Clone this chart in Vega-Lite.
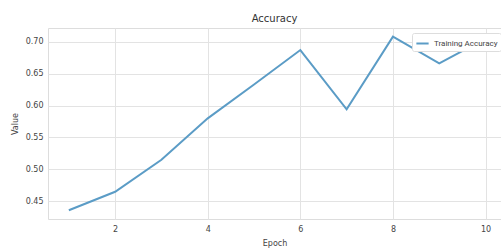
{
  "$schema": "https://vega.github.io/schema/vega-lite/v6.json",
  "autosize": {"type": "none"},
  "width": 453,
  "height": 191,
  "padding": {"left": 48, "top": 28, "right": 0, "bottom": 29},
  "background": "white",
  "title": {"text": "Accuracy", "fontSize": 10, "font": "DejaVu Sans", "fontWeight": "normal", "color": "#333", "offset": 4, "anchor": "middle"},
  "data": {"values": [
    {"Epoch": 1, "Value": 0.436, "Series": "Training Accuracy"},
    {"Epoch": 2, "Value": 0.465, "Series": "Training Accuracy"},
    {"Epoch": 3, "Value": 0.515, "Series": "Training Accuracy"},
    {"Epoch": 4, "Value": 0.58, "Series": "Training Accuracy"},
    {"Epoch": 5, "Value": 0.633, "Series": "Training Accuracy"},
    {"Epoch": 6, "Value": 0.687, "Series": "Training Accuracy"},
    {"Epoch": 7, "Value": 0.594, "Series": "Training Accuracy"},
    {"Epoch": 8, "Value": 0.708, "Series": "Training Accuracy"},
    {"Epoch": 9, "Value": 0.666, "Series": "Training Accuracy"},
    {"Epoch": 10, "Value": 0.705, "Series": "Training Accuracy"}
  ]},
  "mark": {"type": "line", "strokeWidth": 2, "clip": true},
  "encoding": {
    "x": {"field": "Epoch", "type": "quantitative",
      "scale": {"domain": [0.55, 10.334], "nice": false, "zero": false},
      "axis": {"values": [2, 4, 6, 8, 10], "title": "Epoch", "titleFontSize": 8, "titleFont": "DejaVu Sans", "titleFontWeight": "normal", "titleColor": "#444", "titlePadding": 6, "titleAnchor": "middle", "labelFontSize": 8, "labelFont": "DejaVu Sans", "labelColor": "#444", "labelPadding": 6, "ticks": false, "domain": false, "gridColor": "#e3e3e3"}},
    "y": {"field": "Value", "type": "quantitative",
      "scale": {"domain": [0.4223, 0.7215], "nice": false, "zero": false},
      "axis": {"values": [0.45, 0.5, 0.55, 0.6, 0.65, 0.7], "format": ".2f", "title": "Value", "titleFontSize": 8, "titleFont": "DejaVu Sans", "titleFontWeight": "normal", "titleColor": "#444", "titlePadding": 6, "labelFontSize": 8, "labelFont": "DejaVu Sans", "labelColor": "#444", "labelPadding": 5, "ticks": false, "domain": false, "gridColor": "#e3e3e3"}},
    "color": {"field": "Series", "type": "nominal",
      "scale": {"range": ["#5b9cc6"]},
      "legend": {"title": null, "orient": "none", "legendX": 364, "legendY": 5, "symbolType": "stroke", "symbolStrokeWidth": 2, "symbolSize": 150, "labelFontSize": 8, "labelFont": "Roboto", "labelColor": "#444", "labelOffset": 4, "fillColor": "white", "strokeColor": "#dddddd", "padding": 3, "cornerRadius": 2}}
  },
  "config": {"view": {"stroke": "#dddddd"}}
}
